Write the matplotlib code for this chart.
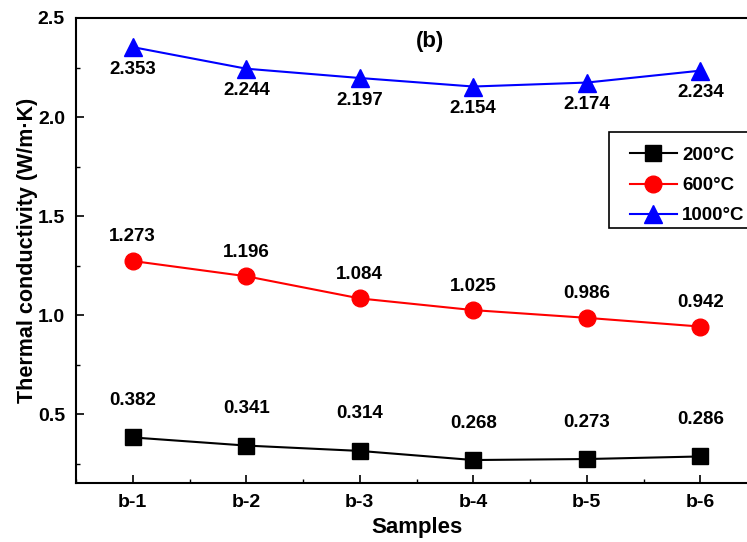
import matplotlib
matplotlib.use("Agg")
import matplotlib.pyplot as plt
from matplotlib.ticker import MultipleLocator
from matplotlib.patches import Rectangle

plt.rcParams['font.family'] = ['Liberation Sans', 'DejaVu Sans']
plt.rcParams['font.weight'] = 'bold'

samples = ["b-1", "b-2", "b-3", "b-4", "b-5", "b-6"]
t200 = [0.382, 0.341, 0.314, 0.268, 0.273, 0.286]
t600 = [1.273, 1.196, 1.084, 1.025, 0.986, 0.942]
t1000 = [2.353, 2.244, 2.197, 2.154, 2.174, 2.234]

W, H = 747, 542
fig = plt.figure(figsize=(W/100, H/100), dpi=100)
ax = fig.add_axes([76/W, 1-483/H, (757-76)/W, (483-18)/H])

x = list(range(len(samples)))
ax.plot(x, t200, '-s', color='black', lw=1.5, ms=11, label='200°C')
ax.plot(x, t600, '-o', color='red', lw=1.5, ms=12, label='600°C')
ax.plot(x, t1000, '-^', color='blue', lw=1.5, ms=13, label='1000°C')

lblsize = 13.5
for xi, v in zip(x, t200):
    ax.annotate(f"{v:.3f}", (xi, v), xytext=(0, 37), textcoords='offset pixels',
                ha='center', va='center', fontsize=lblsize, fontweight='bold')
for xi, v in zip(x, t600):
    ax.annotate(f"{v:.3f}", (xi, v), xytext=(0, 24), textcoords='offset pixels',
                ha='center', va='center', fontsize=lblsize, fontweight='bold')
for xi, v in zip(x, t1000):
    ax.annotate(f"{v:.3f}", (xi, v), xytext=(0, -22), textcoords='offset pixels',
                ha='center', va='center', fontsize=lblsize, fontweight='bold')

ax.set_xlim(-0.5, 5.5)
ax.set_ylim(0.152, 2.5)
ax.set_xticks(x)
ax.set_xticklabels(samples, fontsize=14, fontweight='bold')
ax.xaxis.set_minor_locator(MultipleLocator(0.5))
ax.yaxis.set_major_locator(MultipleLocator(0.5))
ax.yaxis.set_minor_locator(MultipleLocator(0.25))
ax.tick_params(axis='both', which='major', direction='in', length=6, width=1.2, labelsize=14, pad=8)
ax.tick_params(axis='both', which='minor', direction='in', length=3, width=1)
for lbl in ax.get_yticklabels():
    lbl.set_fontweight('bold')
for s in ax.spines.values():
    s.set_linewidth(1.5)

ax.set_xlabel("Samples", fontsize=16, fontweight='bold', labelpad=4)
ax.set_ylabel("Thermal conductivity (W/m·K)", fontsize=15.5, fontweight='bold', labelpad=0)

ax.text(2.62, 2.379, "(b)", ha='center', va='center', fontsize=16, fontweight='bold')

# legend frame drawn in figure pixel coordinates
frame = Rectangle((609/W, 1-228/H), (770-609)/W, (228-132)/H, transform=fig.transFigure,
                  fill=True, facecolor='white', edgecolor='black', lw=1.2, zorder=5,
                  clip_on=False)
fig.add_artist(frame)

leg = fig.legend(*ax.get_legend_handles_labels(), loc='upper left',
                 bbox_to_anchor=(626/W, 1-143/H),
                 fontsize=13.5, frameon=False,
                 handlelength=2.5, borderaxespad=0, labelspacing=0.7, borderpad=0.2,
                 handletextpad=0.3)
leg.set_zorder(6)
for t in leg.get_texts():
    t.set_fontweight('bold')

fig.savefig("out.png", dpi=100)
